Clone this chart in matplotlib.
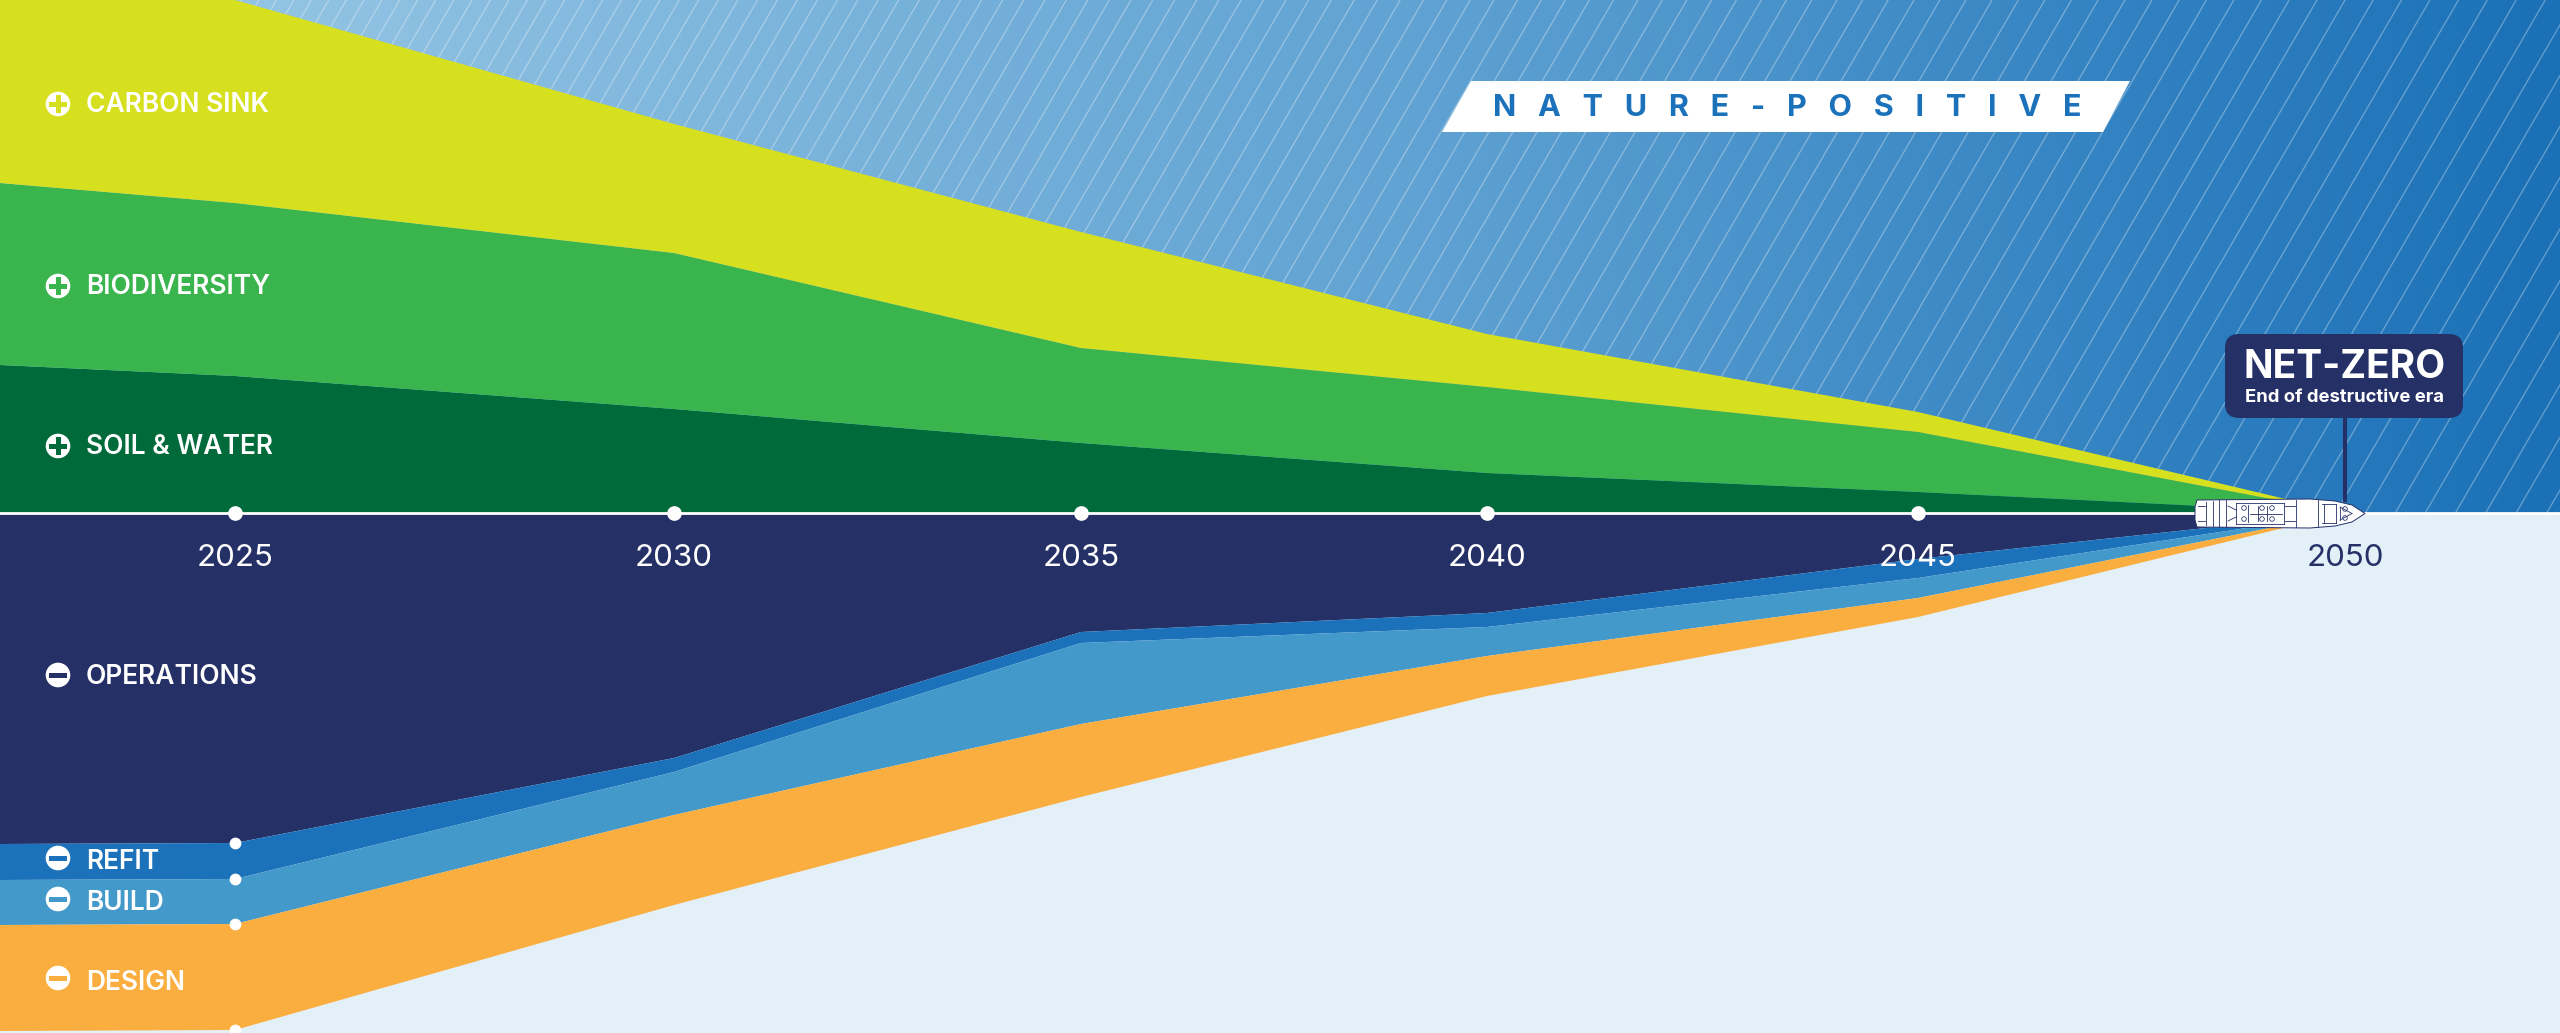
import numpy as np
import matplotlib
matplotlib.use("Agg")
import matplotlib.pyplot as plt
from matplotlib.colors import LinearSegmentedColormap
from matplotlib.patches import Polygon, Circle, Rectangle, FancyBboxPatch

plt.rcParams['font.family'] = ['Inter', 'DejaVu Sans']

W, H = 2560, 1033
BASE = 513

# ---- data (band thickness per year; 2020 is the left edge of the picture) ----
years = [2020, 2025, 2030, 2035, 2040, 2045, 2050]
tick_years = [2025, 2030, 2035, 2040, 2045, 2050]
soil_water = [148, 137, 104, 70, 40, 21, 0]
biodiversity = [182, 173, 156, 95, 86, 60, 0]
carbon_sink = [184, 203, 129, 116, 53, 20, 0]
operations = [331, 330, 245, 119, 100, 46, 0]
refit = [36, 36, 14, 11, 14, 19, 0]
build = [45, 45, 43, 81, 29, 20, 0]
design = [106, 106, 90, 73, 40, 19, 0]

# colours
YELLOW, GREEN, DARK = "#D7E01F", "#3AB54E", "#006A3A"
NAVY, BLUE, LBLUE, ORANGE = "#253067", "#1C72BA", "#4499CB", "#FBAE40"
PALE = "#E4F0F7"

# horizontal year axis as laid out in the reference
year_knots = [2020, 2025, 2030, 2035, 2040, 2045, 2050, 2052]
pixel_knots = [0, 235, 674, 1081, 1487, 1918, 2345, 2560]


def forward(v):
    return np.interp(v, year_knots, pixel_knots)


def inverse(v):
    return np.interp(v, pixel_knots, year_knots)


fig = plt.figure(figsize=(W / 100, H / 100), dpi=100)

# ---- background layer, in pixels ----
bg = fig.add_axes([0, 0, 1, 1], zorder=0)
bg.set_xlim(0, W)
bg.set_ylim(H, 0)
bg.axis("off")
cmap = LinearSegmentedColormap.from_list(
    "sky",
    [(0, "#A4CEE8"), (240 / W, "#93C4E3"), (1400 / W, "#61A3D3"),
     (2200 / W, "#2E7FC0"), (1, "#1B70B6")])
grad = np.linspace(0, 1, 1024)[None, :]
bg.imshow(grad, cmap=cmap, extent=(0, W, BASE, 0), aspect="auto", zorder=0)
bg.set_xlim(0, W)
bg.set_ylim(H, 0)
bg.add_patch(Rectangle((0, BASE), W, H - BASE, fc=PALE, ec="none", zorder=1))
x0 = -300.0
while x0 < W + 300:
    spacing = 19 + (max(x0, 0) - 300) * 0.00524
    bg.plot([x0, x0 + BASE * 0.58], [BASE, 0], color="white", alpha=0.32,
            lw=0.95, zorder=2, solid_capstyle="butt")
    x0 += spacing

# ---- chart layer ----
ax = fig.add_axes([0, 0, 1, 1], zorder=1)
ax.patch.set_alpha(0)
ax.set_xscale("function", functions=(forward, inverse))
ax.set_xlim(2020, 2052)
ax.set_ylim(-(H - BASE), BASE)
ax.axis("off")

ax.stackplot(years, soil_water, biodiversity, carbon_sink,
             colors=[DARK, GREEN, YELLOW], lw=0)
neg = [-np.array(s) for s in (operations, refit, build, design)]
ax.stackplot(years, *neg, colors=[NAVY, BLUE, LBLUE, ORANGE], lw=0)

ax.axhline(0, color="white", lw=2.0, zorder=5)

mid = years[1:-1]
ax.scatter(mid, [0] * len(mid), s=112, color="white", lw=0, zorder=6)
i25 = years.index(2025)
cum = np.cumsum([operations[i25], refit[i25], build[i25], design[i25]])
ax.scatter([2025] * 4, -cum, s=72, color="white", lw=0, zorder=6, clip_on=True)

for y in tick_years:
    ax.text(y, -45, str(y), ha="center", va="center", fontsize=22.5,
            color=NAVY if y == 2050 else "white", zorder=7)

# ---- overlay layer, in pixels ----
ov = fig.add_axes([0, 0, 1, 1], zorder=2)
ov.patch.set_alpha(0)
ov.set_xlim(0, W)
ov.set_ylim(H, 0)
ov.axis("off")

rows = [
    ("CARBON SINK", "+", 104, 105, YELLOW),
    ("BIODIVERSITY", "+", 286, 287, GREEN),
    ("SOIL & WATER", "+", 446, 447, DARK),
    ("OPERATIONS", "-", 675, 677, NAVY),
    ("REFIT", "-", 858, 862, BLUE),
    ("BUILD", "-", 899, 903, LBLUE),
    ("DESIGN", "-", 978, 983, ORANGE),
]
for label, sign, iy, ty, col in rows:
    ov.add_patch(Circle((58, iy), 12.3, fc="white", ec="none"))
    ov.add_patch(Rectangle((49, iy - 2.5), 18, 5, fc=col, ec="none"))
    if sign == "+":
        ov.add_patch(Rectangle((55.5, iy - 9), 5, 18, fc=col, ec="none"))
    ov.text(86, ty, label, ha="left", va="center", fontsize=19,
            fontweight="semibold", color="white")

# banner
ov.add_patch(Polygon([(1471, 81), (2130, 81), (2103, 132), (1442, 132)],
                     closed=True, fc="white", ec="none"))
ov.text(1787.5, 108, "N   A   T   U   R   E   -   P   O   S   I   T   I   V   E",
        ha="center", va="center", fontsize=22, fontweight="bold", color=BLUE)

# net-zero callout
ov.plot([2345, 2345], [418, 502], color=NAVY, lw=2.9, solid_capstyle="butt")
ov.add_patch(FancyBboxPatch((2225, 334), 238, 84,
                            boxstyle="round,pad=0,rounding_size=14",
                            fc=NAVY, ec="none"))
ov.text(2344.5, 367, "NET-ZERO", ha="center", va="center", fontsize=28,
        fontweight="bold", color="white")
ov.text(2344.5, 398, "End of destructive era", ha="center", va="center",
        fontsize=13.3, fontweight="bold", color="white")

# ship
hull = [(2197, 500), (2310, 499), (2335, 501), (2352, 505), (2365, 513.5),
        (2352, 522), (2335, 526), (2310, 528), (2197, 527), (2195, 520),
        (2195, 507)]
ov.add_patch(Polygon(hull, closed=True, fc="white", ec=NAVY, lw=0.7, zorder=5))
ship_lines = [
    ([2206, 2206], [502, 525]), ([2213, 2213], [501, 526]),
    ([2219, 2219], [500, 527]), ([2226, 2226], [500, 527]),
    ([2296, 2296], [500, 527]), ([2318, 2318], [500, 527]),
    ([2322, 2336], [504, 504]), ([2322, 2336], [523, 523]),
    ([2236, 2236], [503, 524]), ([2236, 2284], [503, 503]),
    ([2236, 2284], [524, 524]), ([2284, 2284], [503, 524]),
    ([2248, 2248], [505, 522]), ([2250, 2282], [513.5, 513.5]),
    ([2285, 2295], [506, 506]), ([2285, 2295], [521, 521]),
    ([2340, 2352], [507, 513.5]), ([2340, 2352], [520, 513.5]),
    ([2340, 2340], [507, 520]), ([2198, 2205], [506, 506]),
    ([2198, 2205], [521, 521]), ([2324, 2324], [504, 523]),
    ([2336, 2336], [504, 523]), ([2258, 2258], [506, 521]),
    ([2267, 2267], [506, 521]), ([2228, 2236], [506, 510]),
    ([2228, 2236], [521, 517]),
]
for xs, ys in ship_lines:
    ov.plot(xs, ys, color=NAVY, lw=0.6, zorder=6)
ov.scatter([2244, 2244, 2262, 2272, 2262, 2272, 2345, 2345],
           [508, 519, 508, 508, 519, 519, 509, 518], s=11, fc="none",
           ec=NAVY, lw=0.55, zorder=6)

fig.savefig("out.png", dpi=100)
